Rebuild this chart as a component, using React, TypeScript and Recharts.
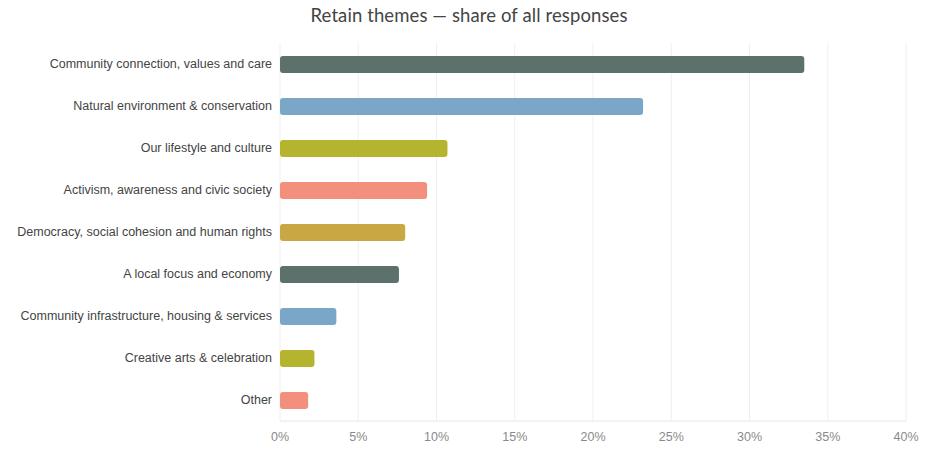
import React from 'react';
import { BarChart, Bar, XAxis, YAxis, CartesianGrid, Cell } from 'recharts';

const categories = [
  'Community connection, values and care',
  'Natural environment & conservation',
  'Our lifestyle and culture',
  'Activism, awareness and civic society',
  'Democracy, social cohesion and human rights',
  'A local focus and economy',
  'Community infrastructure, housing & services',
  'Creative arts & celebration',
  'Other',
];
const shares = [33.5, 23.2, 10.7, 9.4, 8.0, 7.6, 3.6, 2.2, 1.8];
const palette = ['#5d716c', '#7aa7c8', '#b4b42e', '#f28f7d', '#c9a743'];
const xTicks = [0, 5, 10, 15, 20, 25, 30, 35, 40];
const title = 'Retain themes — share of all responses';

const data = categories.map((name, i) => ({ name, value: shares[i] }));

const YTick = (props: any) => {
  const { x, y, payload } = props;
  return (
    <text
      x={x}
      y={y}
      dy="0.355em"
      textAnchor="end"
      fill="#444"
      fontSize={12.5}
      fontFamily='"Liberation Sans", Arial, sans-serif'
    >
      {payload.value}
    </text>
  );
};

export default function App() {
  return (
    <div style={{ position: 'absolute', left: 0, top: 0, width: 940, height: 460, background: '#fff' }}>
      <div
        style={{
          position: 'absolute',
          left: 0,
          top: 4,
          width: 938,
          textAlign: 'center',
          fontFamily: 'Lato, "Open Sans", sans-serif',
          fontSize: 18.5,
          color: '#444',
          letterSpacing: 0.1,
        }}
      >
        {title}
      </div>
      <BarChart
        width={940}
        height={460}
        data={data}
        layout="vertical"
        margin={{ top: 43, right: 34, bottom: 9, left: 0 }}
        barCategoryGap="30%"
      >
        <CartesianGrid horizontal={false} stroke="#efefef" />
        <XAxis
          type="number"
          domain={[0, 40]}
          ticks={xTicks}
          tickFormatter={(v) => `${v}%`}
          axisLine={{ stroke: '#e6e6e6' }}
          tickLine={false}
          tickMargin={5}
          tick={{ fill: '#8a8a8a', fontSize: 12.5, fontFamily: '"Liberation Sans", Arial, sans-serif' }}
          height={30}
          interval={0}
        />
        <YAxis
          type="category"
          dataKey="name"
          width={280}
          axisLine={false}
          tickLine={false}
          interval={0}
          tick={<YTick />}
        />
        <Bar dataKey="value" isAnimationActive={false} radius={3} barSize={17}>
          {data.map((d, i) => (
            <Cell key={d.name} fill={palette[i % palette.length]} />
          ))}
        </Bar>
      </BarChart>
    </div>
  );
}
